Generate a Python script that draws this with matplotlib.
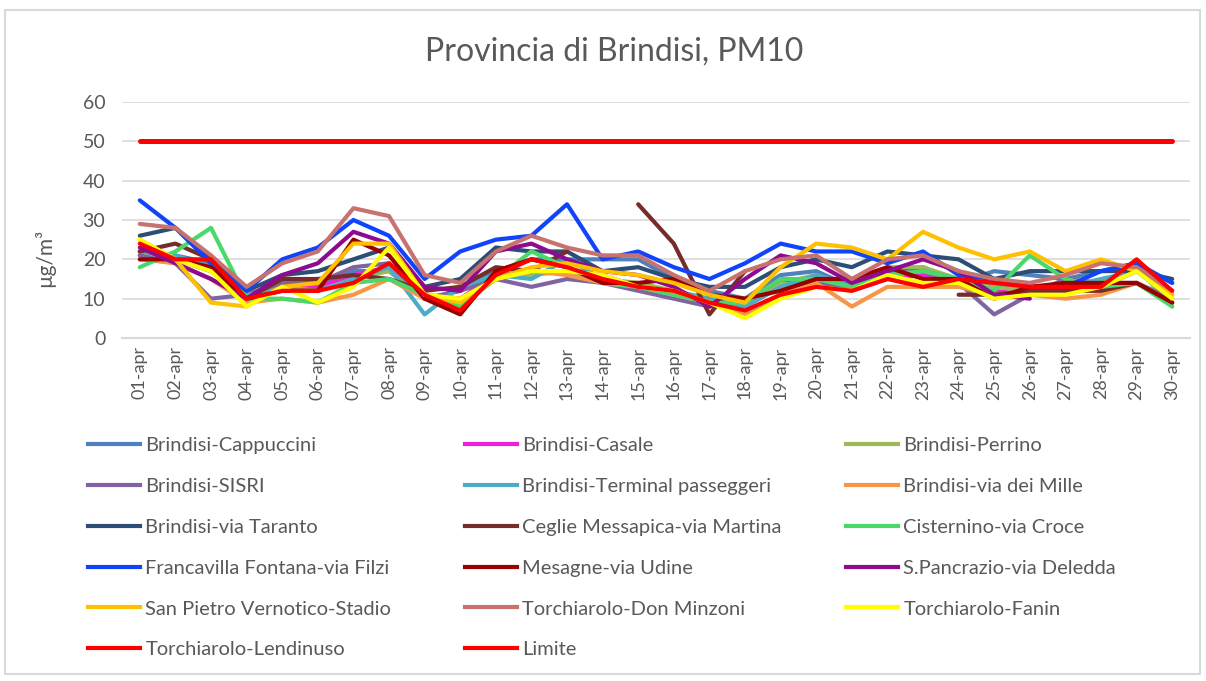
import matplotlib
matplotlib.use("Agg")
import matplotlib.pyplot as plt
import numpy as np
from matplotlib.lines import Line2D
from matplotlib.patches import Rectangle

plt.rcParams['font.family'] = ['Lato', 'DejaVu Sans']

nan = np.nan
giorni = [f"{d:02d}-apr" for d in range(1, 31)]

cappuccini = [21, 21, 19, 11, 14, 13, 17, 17, 10, 12, 17, 20, 20, 20, 20, 15, 12, 10, 16, 17, 13, 16, 18, 14, 17, 16, 15, 17, 19, 14]
casale = [22, 20, 17, 10, 13, 13, 16, 18, 11, 10, 16, 17, 17, 16, 13, 12, 9, 8, 13, 14, 12, 15, 16, 14, 12, 11, 12, 13, 17, 11]
perrino = [21, 20, 17, 11, 13, 12, 15, 17, 11, 9, 16, 16, 17, 15, 14, 12, 9, 9, 14, 16, 13, 18, 18, 15, 13, 12, 13, 14, 18, 8]
sisri = [21, 19, 10, 11, 14, 14, 18, 19, 10, 12, 15, 13, 15, 14, 12, 10, 8, 9, 15, 14, 13, 17, 17, 14, 6, 11, 15, 14, 14, 10]
terminal = [22, 21, 18, 11, 12, 12, 15, 18, 6, 13, 16, 15, 20, 15, 13, 12, 10, 8, 13, 16, 13, 16, 17, 15, 14, 13, 13, 15, 17, 10]
mille = [20, 19, 15, 9, 10, 9, 11, 15, 10, 9, 15, 17, 16, 14, 13, 11, 9, 6, 11, 14, 8, 13, 13, 13, 11, 11, 10, 11, 14, 9]
taranto = [26, 28, 20, 12, 16, 17, 20, 23, 13, 15, 23, 22, 22, 17, 18, 15, 13, 13, 18, 20, 18, 22, 21, 20, 15, 17, 17, 17, 17, 15]
ceglie = [22, 24, 20, 10, 15, 15, 16, 15, 12, 13, 18, 17, 22, nan, 34, 24, 6, 17, nan, nan, nan, nan, nan, 11, 11, 12, 12, 12, 14, 9]
cisternino = [18, 22, 28, 10, 10, 9, 14, 15, 11, 8, 15, 22, 18, 14, 13, 11, 9, 9, 15, 15, 13, 16, 17, 15, 12, 21, 15, 13, 14, 8]
francavilla = [35, 28, 19, 12, 20, 23, 30, 26, 15, 22, 25, 26, 34, 20, 22, 18, 15, 19, 24, 22, 22, 19, 22, 16, 15, 13, 13, 17, 19, 14]
mesagne = [20, 20, 18, 10, 12, 12, 25, 21, 10, 6, 17, 20, 18, 14, 14, 15, 11, 10, 12, 15, 15, 18, 15, 15, 10, 13, 14, 14, 14, 9]
pancrazio = [23, 19, 15, 10, 16, 19, 27, 24, 13, 12, 22, 24, 20, 17, 16, 13, 8, 15, 21, 19, 14, 17, 20, 17, 11, 10, nan, nan, nan, nan]
sanpietro = [25, 20, 9, 8, 13, 14, 24, 24, 11, 9, 15, 18, 19, 17, 16, 14, 11, 9, 18, 24, 23, 20, 27, 23, 20, 22, 17, 20, 17, 11]
donminzoni = [29, 28, 21, 13, 19, 22, 33, 31, 16, 14, 22, 26, 23, 21, 21, 16, 12, 17, 20, 21, 15, 20, 21, 17, 15, 14, 16, 19, 18, 12]
fanin = [25, 20, 17, 8, 13, 9, 13, 23, 11, 10, 15, 17, 17, 16, 13, 12, 9, 5, 10, 13, 12, 16, 14, 14, 10, 11, 11, 13, 17, 10]
lendinuso = [24, 20, 20, 10, 12, 12, 14, 19, 11, 7, 16, 20, 18, 15, 13, 12, 9, 7, 11, 13, 12, 15, 13, 15, 14, 13, 13, 13, 20, 12]
limite = [50] * 30

serie = [
    ("Brindisi-Cappuccini", cappuccini, "#4F81BD"),
    ("Brindisi-Casale", casale, "#F020D8"),
    ("Brindisi-Perrino", perrino, "#9BBB59"),
    ("Brindisi-SISRI", sisri, "#8064A2"),
    ("Brindisi-Terminal passeggeri", terminal, "#4BACC6"),
    ("Brindisi-via dei Mille", mille, "#F79646"),
    ("Brindisi-via Taranto", taranto, "#2C4D75"),
    ("Ceglie Messapica-via Martina", ceglie, "#772C2A"),
    ("Cisternino-via Croce", cisternino, "#4BD86A"),
    ("Francavilla Fontana-via Filzi", francavilla, "#1044FA"),
    ("Mesagne-via Udine", mesagne, "#990000"),
    ("S.Pancrazio-via Deledda", pancrazio, "#8E0A8E"),
    ("San Pietro Vernotico-Stadio", sanpietro, "#FFC000"),
    ("Torchiarolo-Don Minzoni", donminzoni, "#C8726F"),
    ("Torchiarolo-Fanin", fanin, "#FFFF00"),
    ("Torchiarolo-Lendinuso", lendinuso, "#FF0000"),
    ("Limite", limite, "#FF0000"),
]

W, H = 1206, 681
fig = plt.figure(figsize=(W / 100, H / 100), dpi=100)
ax = fig.add_axes([122 / W, 1 - 338 / H, (1190 - 122) / W, (338 - 102) / H])

x = np.arange(len(giorni))
handles = []
for nome, valori, colore in serie:
    lw = 3.6 if nome == "Limite" else 3.0
    ln, = ax.plot(x, valori, color=colore, lw=lw, solid_capstyle='round',
                  solid_joinstyle='round', label=nome)
    handles.append(ln)

ax.set_xlim(-0.5, 29.5)
ax.set_ylim(0, 60)
ax.set_yticks(range(0, 61, 10))
ax.set_xticks(x)
ax.set_xticklabels(giorni, rotation=90)
ax.grid(axis='y', color='#D9D9D9', lw=1.2)
ax.set_axisbelow(True)
for s in ['top', 'right', 'left']:
    ax.spines[s].set_visible(False)
ax.spines['bottom'].set_color('#D9D9D9')
ax.spines['bottom'].set_linewidth(1.5)
ax.tick_params(axis='y', length=0, pad=12, labelsize=14, labelcolor='#595959')
ax.tick_params(axis='x', length=0, pad=6, labelsize=13, labelcolor='#595959')

fig.text(614 / W, 1 - 52 / H, "Provincia di Brindisi, PM10", ha='center', va='center',
         fontsize=23, color='#595959')
fig.text(45 / W, 1 - 258 / H, "µg/m³", rotation=90, ha='center', va='center',
         fontsize=15, color='#595959')

# legenda in 3 colonne, riempita per righe come in Excel
col_x = [88, 465, 846]
for c in range(3):
    idx = list(range(c, len(handles), 3))
    hs = [Line2D([0], [0], color=handles[i].get_color(), lw=3.0) for i in idx]
    lab = [handles[i].get_label() for i in idx]
    fig.legend(hs, lab, loc='upper left', bbox_to_anchor=(col_x[c] / W, 1 - 437 / H),
               frameon=False, fontsize=14.5, handlelength=2.6, handletextpad=0.25,
               labelspacing=1.18, borderaxespad=0, borderpad=0, labelcolor='#595959')

fig.patches.append(Rectangle((5 / W, 7 / H), 1195 / W, 664 / H, transform=fig.transFigure,
                             fill=False, edgecolor='#D9D9D9', lw=1.5))

fig.savefig("out.png", dpi=100)
